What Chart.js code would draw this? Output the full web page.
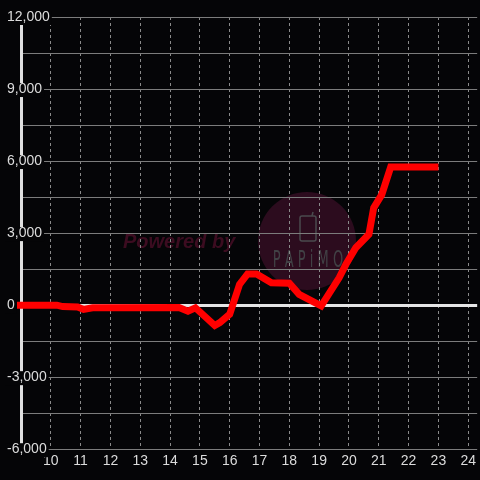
<!DOCTYPE html>
<html>
<head>
<meta charset="utf-8">
<script src="https://cdn.jsdelivr.net/npm/chart.js@4"></script>
<style>
  html, body { margin: 0; padding: 0; background: #050507; }
  canvas { display: block; }
</style>
</head>
<body>
<canvas id="c" width="480" height="480"></canvas>
<script>
// Hours (x) and running total (y).
const hours = [8.5, 10.2, 10.4, 10.9, 11.1, 11.4, 14.3, 14.6, 14.85, 15.5, 15.67, 16.0,
  16.33, 16.6, 16.9, 17.4, 18.0, 18.33, 19.07, 19.67, 19.9, 20.23, 20.67, 20.83,
  21.1, 21.4, 23.0];
const totals = [0, 0, -60, -80, -180, -110, -100, -250, -110, -850, -730, -380,
  860, 1300, 1300, 930, 910, 450, -30, 1140, 1700, 2390, 2950, 4050,
  4600, 5750, 5750];
const xTicks = [10, 11, 12, 13, 14, 15, 16, 17, 18, 19, 20, 21, 22, 23, 24];

const BG = '#050507';
const TEXT = '#dcdcdc';

// black page + faint "Powered by PAPiMO" mark behind the grid
const backdrop = {
  id: 'backdrop',
  beforeDraw(chart) {
    const ctx = chart.ctx;
    ctx.save();
    ctx.fillStyle = BG;
    ctx.fillRect(0, 0, chart.width, chart.height);

    ctx.fillStyle = '#2c0c1e';
    ctx.beginPath();
    ctx.arc(307, 241, 49, 0, Math.PI * 2);
    ctx.fill();

    ctx.fillStyle = '#3c0c20';
    ctx.font = 'italic bold 20px "Liberation Sans", Arial, sans-serif';
    ctx.textBaseline = 'alphabetic';
    ctx.fillText('Powered by', 123, 248);

    // phone icon
    ctx.strokeStyle = '#4a4a4e';
    ctx.lineWidth = 1.5;
    ctx.beginPath();
    ctx.roundRect(300, 216, 16, 25, 2);
    ctx.stroke();
    ctx.beginPath();
    ctx.moveTo(312, 216);
    ctx.lineTo(313, 212);
    ctx.stroke();

    // condensed logo word
    ctx.fillStyle = '#414145';
    ctx.font = '13px "DejaVu Sans", sans-serif';
    ctx.textAlign = 'center';
    ctx.translate(308, 267);
    ctx.scale(1, 1.75);
    ctx.fillText('P A P i M O', 0, 0);
    ctx.restore();
  }
};

new Chart(document.getElementById('c'), {
  type: 'line',
  data: {
    datasets: [{
      data: hours.map((h, i) => ({ x: h, y: totals[i] })),
      borderColor: '#ff0000',
      borderWidth: 7,
      pointRadius: 0,
      tension: 0,
      fill: false,
      clip: 4
    }]
  },
  options: {
    responsive: false,
    animation: false,
    layout: { padding: { left: 21, top: 17, right: 0, bottom: 6 } },
    plugins: { legend: { display: false }, tooltip: { enabled: false } },
    scales: {
      x: {
        type: 'linear',
        min: 9,
        max: 24.3,
        afterBuildTicks: (axis) => { axis.ticks = xTicks.map(v => ({ value: v })); },
        grid: { color: '#8a8a8a', lineWidth: 1, drawTicks: false },
        border: { display: false, dash: [3, 3] },
        ticks: {
          color: TEXT,
          padding: 4,
          maxRotation: 0,
          autoSkip: false,
          font: { family: '"Liberation Sans", Arial, sans-serif', size: 14 }
        }
      },
      y: {
        min: -6000,
        max: 12000,
        afterFit: (axis) => { axis.width = 0; },
        grid: {
          drawTicks: false,
          color: (c) => c.tick && c.tick.value === 0 ? '#e6e6e6' : '#7c7c7c',
          lineWidth: (c) => c.tick && c.tick.value === 0 ? 3 : 1
        },
        border: { display: true, color: '#e0e0e0', width: 3 },
        ticks: {
          stepSize: 1500,
          mirror: true,
          padding: -14,
          color: TEXT,
          font: { family: '"Liberation Sans", Arial, sans-serif', size: 14, lineHeight: 1 },
          showLabelBackdrop: (c) => c.tick && c.tick.value % 3000 === 0,
          backdropColor: BG,
          backdropPadding: { left: 2, right: 2, top: -1, bottom: 1 },
          callback: (v) => v % 3000 === 0 ? v.toLocaleString('en-US') : ''
        }
      }
    }
  },
  plugins: [backdrop]
});
</script>
</body>
</html>
